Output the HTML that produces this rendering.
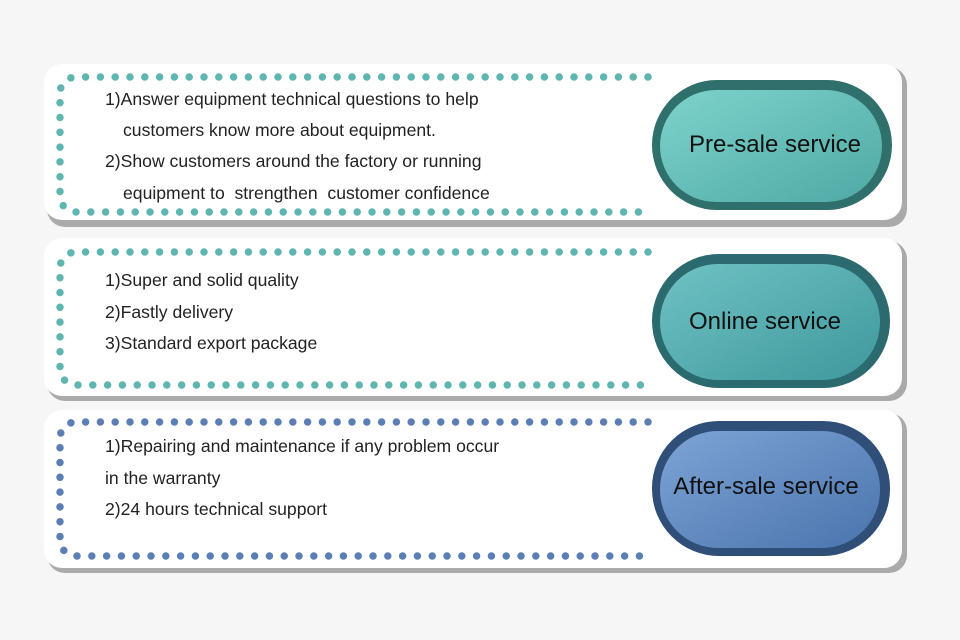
<!DOCTYPE html>
<html><head><meta charset="utf-8"><style>
body{margin:0;background:#f6f6f6;width:960px;height:640px;overflow:hidden;position:relative;font-family:"Liberation Sans",sans-serif}
.t{position:absolute;font-size:17.6px;color:#222;white-space:nowrap;line-height:20px}
.p{position:absolute;font-size:24px;color:#111;white-space:nowrap;text-align:center}
</style></head><body>
<svg width="960" height="640" style="position:absolute;left:0;top:0">
<defs>
<linearGradient id="g1" x1="0" y1="0" x2="1" y2="1"><stop offset="0" stop-color="#7ed3cc"/><stop offset="1" stop-color="#4fa9a4"/></linearGradient>
<linearGradient id="g2" x1="0" y1="0" x2="1" y2="1"><stop offset="0" stop-color="#6fc2c4"/><stop offset="1" stop-color="#3f989c"/></linearGradient>
<linearGradient id="g3" x1="0" y1="0" x2="1" y2="1"><stop offset="0" stop-color="#7ea4d6"/><stop offset="1" stop-color="#4a74ad"/></linearGradient>
</defs>
<g>
<rect x="47" y="67" width="860" height="160" rx="18" fill="#aaa"/>
<rect x="44" y="64" width="858" height="156" rx="18" fill="#fff"/>
<rect x="47" y="241" width="860" height="160" rx="18" fill="#aaa"/>
<rect x="44" y="238" width="858" height="158" rx="18" fill="#fff"/>
<rect x="47" y="413" width="860" height="160" rx="18" fill="#aaa"/>
<rect x="44" y="410" width="858" height="158" rx="18" fill="#fff"/>
</g>
<g fill="none" stroke-width="7.5" stroke-linecap="round" stroke-dasharray="0 14.8">
<path d="M648,77 H76 A16,16 0 0 0 60,93 V196 A16,16 0 0 0 76,212 H648" stroke="#5fb5b0"/>
<path d="M648,252 H76 A16,16 0 0 0 60,268 V369 A16,16 0 0 0 76,385 H648" stroke="#5fb5b0"/>
<path d="M648,422 H76 A16,16 0 0 0 60,438 V540 A16,16 0 0 0 76,556 H648" stroke="#5b7fb5"/>
</g>
<rect x="652" y="80" width="240" height="130" rx="65" fill="#2f6f6c"/>
<rect x="660" y="90" width="222" height="112" rx="56" fill="url(#g1)"/>
<rect x="652" y="254" width="238" height="134" rx="67" fill="#2b6a6e"/>
<rect x="660" y="264" width="220" height="116" rx="58" fill="url(#g2)"/>
<rect x="652" y="421" width="238" height="135" rx="67" fill="#2f4f78"/>
<rect x="660" y="431" width="220" height="117" rx="58" fill="url(#g3)"/>
</svg>
<div class="t" style="left:105px;top:89px">1)Answer equipment technical questions to help</div>
<div class="t" style="left:123px;top:120px">customers know more about equipment.</div>
<div class="t" style="left:105px;top:151px">2)Show customers around the factory or running</div>
<div class="t" style="left:123px;top:183px">equipment to &nbsp;strengthen &nbsp;customer confidence</div>
<div class="t" style="left:105px;top:270px">1)Super and solid quality</div>
<div class="t" style="left:105px;top:302px">2)Fastly delivery</div>
<div class="t" style="left:105px;top:333px">3)Standard export package</div>
<div class="t" style="left:105px;top:436px">1)Repairing and maintenance if any problem occur</div>
<div class="t" style="left:105px;top:468px">in the warranty</div>
<div class="t" style="left:105px;top:499px">2)24 hours technical support</div>
<div class="p" style="left:660px;width:230px;top:131px">Pre-sale service</div>
<div class="p" style="left:650px;width:230px;top:308px">Online service</div>
<div class="p" style="left:651px;width:230px;top:473px">After-sale service</div>
</body></html>
